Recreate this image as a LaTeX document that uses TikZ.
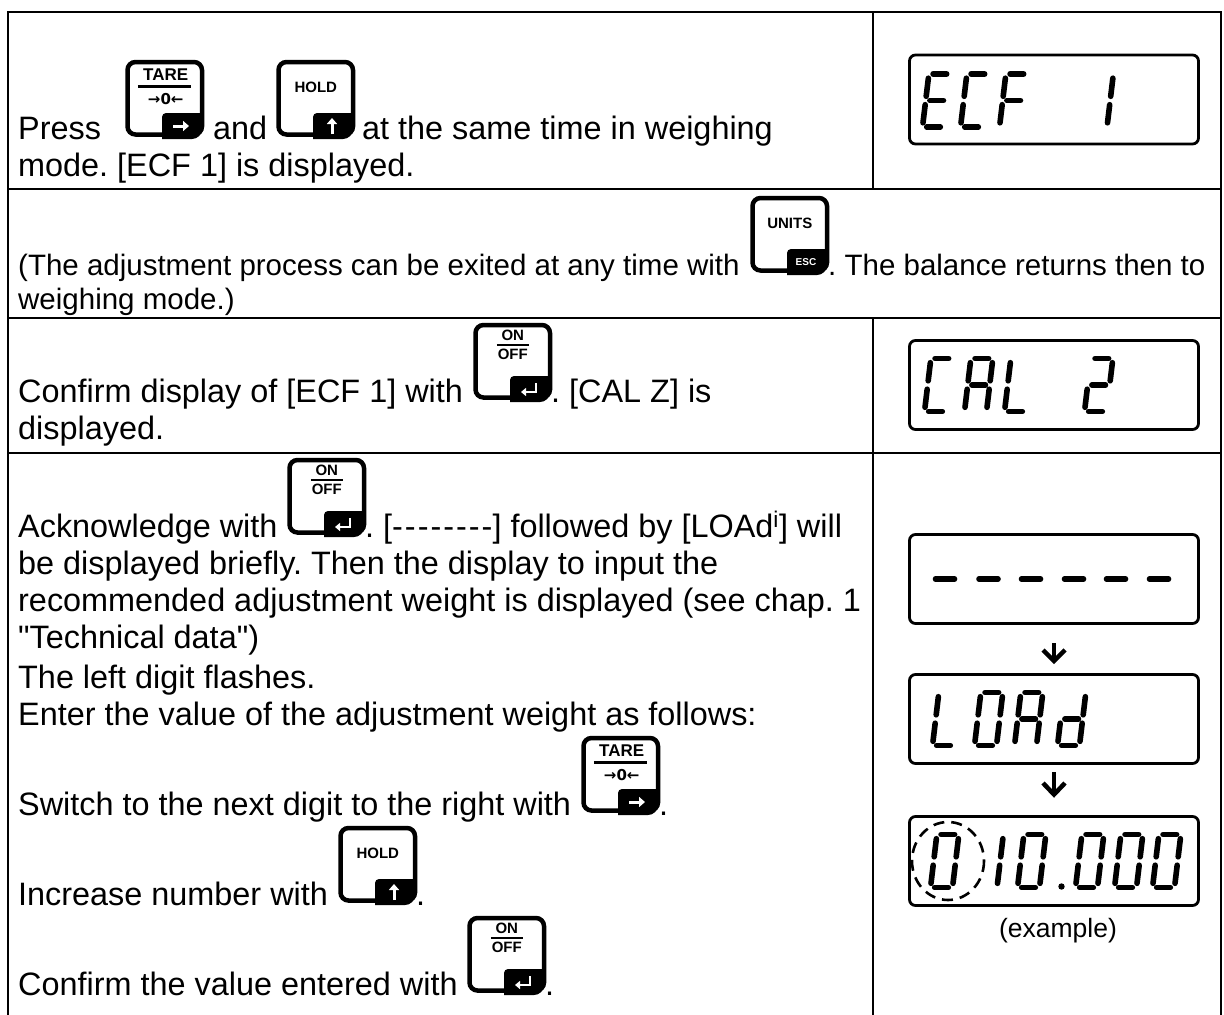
\documentclass[tikz,border=0pt]{standalone}
\usepackage{fontspec}
\setmainfont{Liberation Sans}
\newfontfamily\dvsans{DejaVu Sans}
\usetikzlibrary{calc,arrows.meta}
\frenchspacing

\tikzset{
  txt/.style={anchor=base west, inner sep=0pt, font=\fontsize{32.4}{37}\selectfont},
  notetxt/.style={anchor=base west, inner sep=0pt, font=\fontsize{29.5}{34}\selectfont},
  grid/.style={line width=2.6pt, line join=miter},
  keyframe/.style={draw, line width=4.5pt, rounded corners=8pt, minimum width=74.5pt, minimum height=72.5pt, inner sep=0pt, anchor=south west},
  keylab/.style={inner sep=0pt, font=\bfseries\fontsize{17}{17}\selectfont},
  keylabs/.style={inner sep=0pt, font=\bfseries\fontsize{15}{15}\selectfont},
  tabarrow/.style={white, line width=3pt, -{Triangle[length=6pt,width=10pt]}},
  disp/.style={draw, line width=2.8pt, rounded corners=6pt, minimum width=289pt, minimum height=89pt, inner sep=0pt},
  seg/.style={line width=5.6pt, line cap=round},
  dnarrow/.style={line width=4.5pt, line join=miter},
  focus/.style={line width=2.6pt, dash pattern=on 11pt off 7pt},
}

\newcommand\hy{\mbox{-}\kern2pt}
\newcommand\dq{\XeTeXglyph\XeTeXcharglyph"22\relax}

\newcommand\keybody[3]{%
  \node[keyframe] (#1) at (#2+2.25,#3-2.25) {};
  \begin{scope}
    \clip[rounded corners=10pt] (#2,#3-77) rectangle (#2+79,#3);
    \fill[rounded corners=4pt] (#2+39,#3-26) rectangle (#2+95,#3+10);
  \end{scope}
  \coordinate (#1-tab) at (#2+58,#3-13);
}
\newcommand\tarekey[3]{%
  \keybody{#1}{#2}{#3}
  \node[keylab] (#1-l1) at ($(#1.north)+(1,15.25)$) {TARE};
  \draw[line width=3pt] ($(#1.north)+(-27,26.75)$) -- ($(#1.north)+(26,26.75)$);
  \node[inner sep=0pt, font=\dvsans\bfseries\fontsize{15}{15}\selectfont] (#1-l2) at ($(#1.north)+(1,39.5)$) {→0←};
  \draw[tabarrow] ($(#1-tab)+(-8,0)$) -- ($(#1-tab)+(8,0)$);
}
\newcommand\holdkey[3]{%
  \keybody{#1}{#2}{#3}
  \node[keylabs] (#1-l1) at ($(#1.north)+(0,28)$) {HOLD};
  \draw[tabarrow] ($(#1-tab)+(0,8)$) -- ($(#1-tab)+(0,-8)$);
}
\newcommand\unitskey[3]{%
  \keybody{#1}{#2}{#3}
  \node[keylabs] (#1-l1) at ($(#1.north)+(0,28)$) {UNITS};
  \node[inner sep=0pt, text=white, font=\bfseries\fontsize{10}{10}\selectfont] (#1-l2) at (#1-tab) {ESC};
}
\newcommand\onkey[3]{%
  \keybody{#1}{#2}{#3}
  \node[keylabs] (#1-l1) at ($(#1.north)+(0,13)$) {ON};
  \draw[line width=2.2pt] ($(#1.north)+(-16,22.5)$) -- ($(#1.north)+(16,22.5)$);
  \node[keylabs] (#1-l2) at ($(#1.north)+(0,32)$) {OFF};
  \draw[white, line width=2.6pt, -{Triangle[length=5pt,width=8pt]}] ($(#1-tab)+(7,-6)$) -- ($(#1-tab)+(7,3)$) -- ($(#1-tab)+(-8,3)$);
}

\def\sga{\draw[seg] (4.2,-53) -- (17.8,-53);}
\def\sgb{\draw[seg] (22,-48.8) -- (22,-30.7);}
\def\sgc{\draw[seg] (22,-22.3) -- (22,-4.2);}
\def\sgd{\draw[seg] (4.2,0) -- (17.8,0);}
\def\sge{\draw[seg] (0,-22.3) -- (0,-4.2);}
\def\sgf{\draw[seg] (0,-48.8) -- (0,-30.7);}
\def\sgg{\draw[seg] (4.2,-26.5) -- (17.8,-26.5);}
\newcommand\dg[3]{%
  \begin{scope}[shift={(#1,#2)}, xslant=0.12]
    \foreach \s in {#3} {\csname sg\s\endcsname}
  \end{scope}}

\begin{document}
\begin{tikzpicture}[x=1pt,y=-1pt]
\useasboundingbox (0,0) rectangle (1224,1015);

% table grid
\draw[grid] (8,1015) -- (8,12) -- (1221,12) -- (1221,1015);
\draw[grid] (8,189) -- (1221,189);
\draw[grid] (8,318) -- (1221,318);
\draw[grid] (8,453) -- (1221,453);
\draw[grid] (873,12) -- (873,189);
\draw[grid] (873,318) -- (873,1015);

% row 1
\node[txt] (r1a) at (18,139) {Press};
\tarekey{k1}{123}{139}
\node[txt] (r1b) at (213,139) {and};
\holdkey{k2}{274}{139}
\node[txt] (r1c) at (362,139) {at the same time in weighing};
\node[txt] (r1d) at (18,176) {mode. [ECF 1] is displayed.};

\node[disp] (ecf) at (1054,99.5) {};
\dg{922.5}{127}{a,d,e,f,g}
\dg{960.5}{127}{a,d,e,f}
\dg{999.5}{127}{a,e,f,g}
\dg{1085}{127}{b,c}

% row 2
\node[notetxt] (r2a) at (18,275) {(The adjustment process can be exited at any time with};
\unitskey{k3}{748}{275}
\node[notetxt] (r2b) at (828,275) {. The balance returns then to};
\node[notetxt] (r2c) at (18,309) {weighing mode.)};

% row 3
\node[txt] (r3a) at (18,402) {Confirm display of [ECF 1] with};
\onkey{k4}{471}{402}
\node[txt] (r3b) at (551,402) {. [CAL Z] is};
\node[txt] (r3c) at (18,439) {displayed.};

\node[disp] (cal) at (1054,385) {};
\dg{924.5}{411.5}{a,d,e,f}
\dg{964.5}{411.5}{a,b,c,e,f,g}
\dg{1004.5}{411.5}{d,e,f}
\dg{1084.5}{411.5}{a,b,d,e,g}

% row 4
\node[txt] (r4a) at (18,537) {Acknowledge with};
\onkey{k5}{285}{537}
\node[txt] (r4b) at (365,537) {. [\hy\hy\hy\hy\hy\hy\hy\mbox{-}] followed by [LOAd\textsuperscript{i}] will};
\node[txt] (r4c) at (18,574) {be displayed briefly. Then the display to input the};
\node[txt] (r4d) at (18,611) {recommended adjustment weight is displayed (see chap. 1};
\node[txt] (r4e) at (18,648) {\dq Technical data\dq)};
\node[txt] (r4f) at (18,688) {The left digit flashes.};
\node[txt] (r4g) at (18,725) {Enter the value of the adjustment weight as follows:};
\node[txt] (r4h) at (18,815) {Switch to the next digit to the right with};
\tarekey{k6}{579}{815}
\node[txt] (r4i) at (659,815) {.};
\node[txt] (r4j) at (18,905) {Increase number with};
\holdkey{k7}{336}{905}
\node[txt] (r4k) at (416,905) {.};
\node[txt] (r4l) at (18,995) {Confirm the value entered with};
\onkey{k8}{465}{995}
\node[txt] (r4m) at (545,995) {.};

% displays of row 4
\node[disp] (dash) at (1054,579) {};
\foreach \c in {945,988.5,1031,1074,1116,1159} {\draw[seg] (\c-9.5,579) -- (\c+9.5,579);}

\node[disp] (load) at (1054,719) {};
\dg{932.5}{745.5}{d,e,f}
\dg{974.5}{745.5}{a,b,c,d,e,f}
\dg{1014.5}{745.5}{a,b,c,e,f,g}
\dg{1057.5}{745.5}{b,c,d,e,g}

\node[disp] (fin) at (1054,861) {};
\dg{930.5}{887.5}{a,b,c,d,e,f}
\dg{975}{887.5}{b,c}
\dg{1017.5}{887.5}{a,b,c,d,e,f}
\fill (1061.5,886.5) circle (3.2);
\dg{1075.5}{887.5}{a,b,c,d,e,f}
\dg{1114.5}{887.5}{a,b,c,d,e,f}
\dg{1152.5}{887.5}{a,b,c,d,e,f}
\draw[focus] (948,861) ellipse [x radius=36, y radius=39];
\node[anchor=base, inner sep=0pt, font=\fontsize{26.5}{30}\selectfont] (ex) at ($(fin.south)+(4,31)$) {(example)};

% arrows between displays
\path (dash.south) -- (load.north) coordinate[midway] (m1);
\draw[dnarrow] ($(m1)+(0,-6)$) -- ($(m1)+(0,10)$);
\draw[dnarrow] ($(m1)+(-11,1)$) -- ($(m1)+(0,12)$) -- ($(m1)+(11,1)$);
\path (load.south) -- (fin.north) coordinate[midway] (m2);
\draw[dnarrow] ($(m2)+(0,-18)$) -- ($(m2)+(0,3)$);
\draw[dnarrow] ($(m2)+(-11,-7)$) -- ($(m2)+(0,4.5)$) -- ($(m2)+(11,-7)$);
\end{tikzpicture}
\end{document}
